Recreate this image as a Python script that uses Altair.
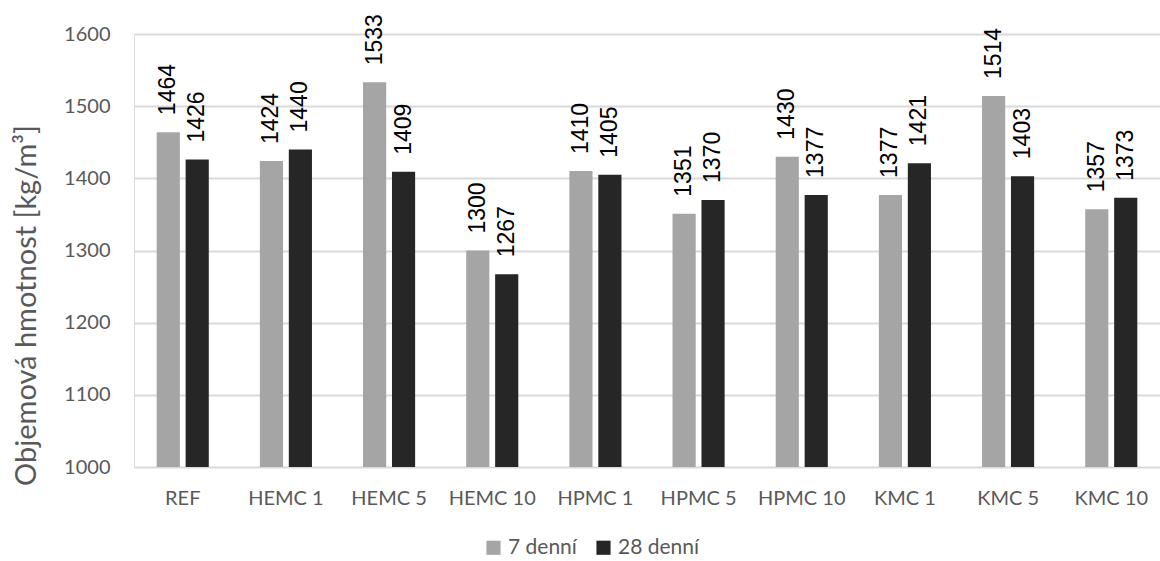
import altair as alt
import pandas as pd

categories = ["REF", "HEMC 1", "HEMC 5", "HEMC 10", "HPMC 1", "HPMC 5",
              "HPMC 10", "KMC 1", "KMC 5", "KMC 10"]
series = ["7 denní", "28 denní"]
values_7 = [1464, 1424, 1533, 1300, 1410, 1351, 1430, 1377, 1514, 1357]
values_28 = [1426, 1440, 1409, 1267, 1405, 1370, 1377, 1421, 1403, 1373]
colors = ["#a5a5a5", "#262626"]

rows = []
for cat, a, b in zip(categories, values_7, values_28):
    rows.append({"kategorie": cat, "serie": series[0], "hodnota": a})
    rows.append({"kategorie": cat, "serie": series[1], "hodnota": b})
df = pd.DataFrame(rows)

axis_font = "Lato"
axis_color = "#595959"

x_enc = alt.X("kategorie:N", sort=categories, title=None,
              scale=alt.Scale(paddingInner=0.495, paddingOuter=0.22),
              axis=alt.Axis(labelAngle=0, labelFont=axis_font, labelFontSize=20,
                            labelColor=axis_color, labelPadding=21,
                            domain=False, ticks=False))
y_enc = alt.Y("hodnota:Q", title="Objemová hmotnost [kg/m³]",
              scale=alt.Scale(domain=[1000, 1600], nice=False, zero=False),
              axis=alt.Axis(values=[1000, 1100, 1200, 1300, 1400, 1500, 1600],
                            format="d",
                            labelFont=axis_font, labelFontSize=20, labelColor=axis_color,
                            labelPadding=24, titleFont=axis_font, titleFontSize=29,
                            titleColor=axis_color, titleFontWeight="normal",
                            titlePadding=22, titleY=271, domain=False, ticks=False,
                            gridColor="#d9d9d9", gridWidth=2))
xoff = alt.XOffset("serie:N", sort=series,
                   scale=alt.Scale(paddingInner=0.2, paddingOuter=0))
color_enc = alt.Color("serie:N", sort=series,
                      scale=alt.Scale(domain=series, range=colors),
                      legend=alt.Legend(title=None, orient="none", direction="horizontal",
                                        legendX=349, legendY=503, symbolType="square",
                                        symbolSize=200, symbolStrokeWidth=0,
                                        labelFont=axis_font, labelFontSize=21,
                                        labelColor=axis_color, columnPadding=16,
                                        labelOffset=4))

bars = alt.Chart(df).mark_bar().encode(
    x=x_enc, y=y_enc, y2=alt.datum(1000), xOffset=xoff, color=color_enc)

labels = alt.Chart(df).mark_text(angle=270, align="left", baseline="middle", dx=17,
                                 font="Liberation Sans", fontSize=23, color="black").encode(
    x=alt.X("kategorie:N", sort=categories),
    xOffset=alt.XOffset("serie:N", sort=series),
    y="hodnota:Q",
    text=alt.Text("hodnota:Q", format="d"),
)

chart = (bars + labels).properties(
    width=1026, height=433,
    autosize=alt.AutoSizeParams(type="none"),
    padding={"left": 134, "top": 34, "right": 0, "bottom": 94},
).configure_view(stroke=None).configure(background="white")

chart.save("out.html", embed_options={"renderer": "svg", "actions": False})
